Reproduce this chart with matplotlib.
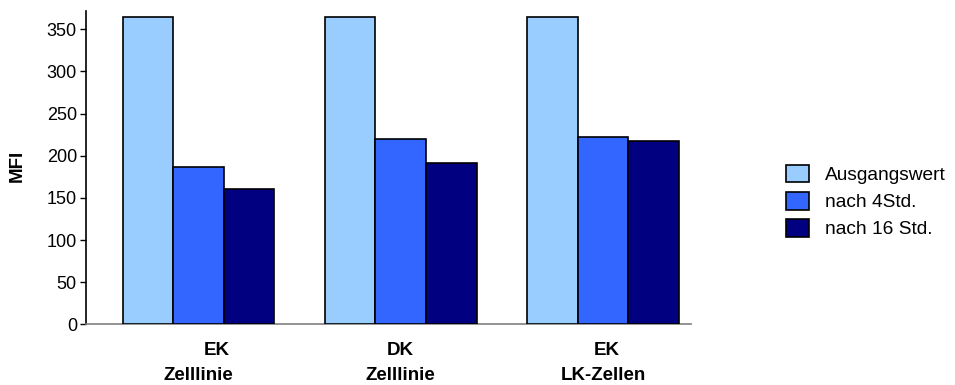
import matplotlib
matplotlib.use("Agg")
import matplotlib.pyplot as plt
import matplotlib.transforms as mtransforms
import numpy as np
from matplotlib.patches import Patch

plt.rcParams['font.family'] = ['Liberation Sans', 'DejaVu Sans']

cat_line1 = ["EK", "DK", "EK"]
cat_line2 = ["Zelllinie", "Zelllinie", "LK-Zellen"]
series_names = ["Ausgangswert", "nach 4Std.", "nach 16 Std."]
ausgangswert = [365, 365, 365]
nach_4std = [187, 220, 222]
nach_16std = [161, 191, 218]
colors = ["#99CCFF", "#3366FF", "#000080"]
yticks = [0, 50, 100, 150, 200, 250, 300, 350]
line1_shift_px = [18, 0, 4]   # small horizontal offsets of the first label line

FS = 13.5
fig = plt.figure(figsize=(9.55, 3.85), dpi=100)
ax = fig.add_axes([0.090, 0.1576, 0.6336, 0.8138])

x = np.arange(len(cat_line1))
w = 0.25
for i, (vals, c) in enumerate(zip([ausgangswert, nach_4std, nach_16std], colors)):
    ax.bar(x + (i - 1) * w, vals, width=w, color=c, edgecolor="black", linewidth=1.2, zorder=3)

ax.set_xlim(-0.556, 2.435)
ax.set_ylim(0, 371.7)
ax.set_yticks(yticks)
ax.set_xticks([])
ax.tick_params(axis='y', length=4.5, width=1, labelsize=13, pad=2, direction='out')
ax.spines['top'].set_visible(False)
ax.spines['right'].set_visible(False)
ax.spines['left'].set_color('black')
ax.spines['left'].set_linewidth(1.2)
ax.spines['bottom'].set_color('#808080')
ax.spines['bottom'].set_linewidth(1.2)

blend = mtransforms.blended_transform_factory(ax.transData, fig.transFigure)
for xi, l1, l2, sh in zip(x, cat_line1, cat_line2, line1_shift_px):
    t1 = blend + mtransforms.ScaledTranslation(sh / 100.0, 0, fig.dpi_scale_trans)
    ax.text(xi, 1 - 355 / 385, l1, transform=t1, ha='center', va='baseline',
            fontsize=FS, fontweight='bold', clip_on=False)
    ax.text(xi, 1 - 379.5 / 385, l2, transform=blend, ha='center', va='baseline',
            fontsize=FS, fontweight='bold', clip_on=False)

fig.text(17 / 955, 1 - 166 / 385, "MFI", rotation=90, ha='center', va='center',
         fontsize=FS, fontweight='bold')

handles = [Patch(facecolor=c, edgecolor="black", linewidth=1.2) for c in colors]
fig.legend(handles, series_names, loc='center left', bbox_to_anchor=(786 / 955, 1 - 201.5 / 385),
           frameon=False, fontsize=13.8, handlelength=1.2, handleheight=1.05,
           labelspacing=0.4, handletextpad=0.85, borderaxespad=0, borderpad=0)

fig.savefig("out.png", dpi=100)
